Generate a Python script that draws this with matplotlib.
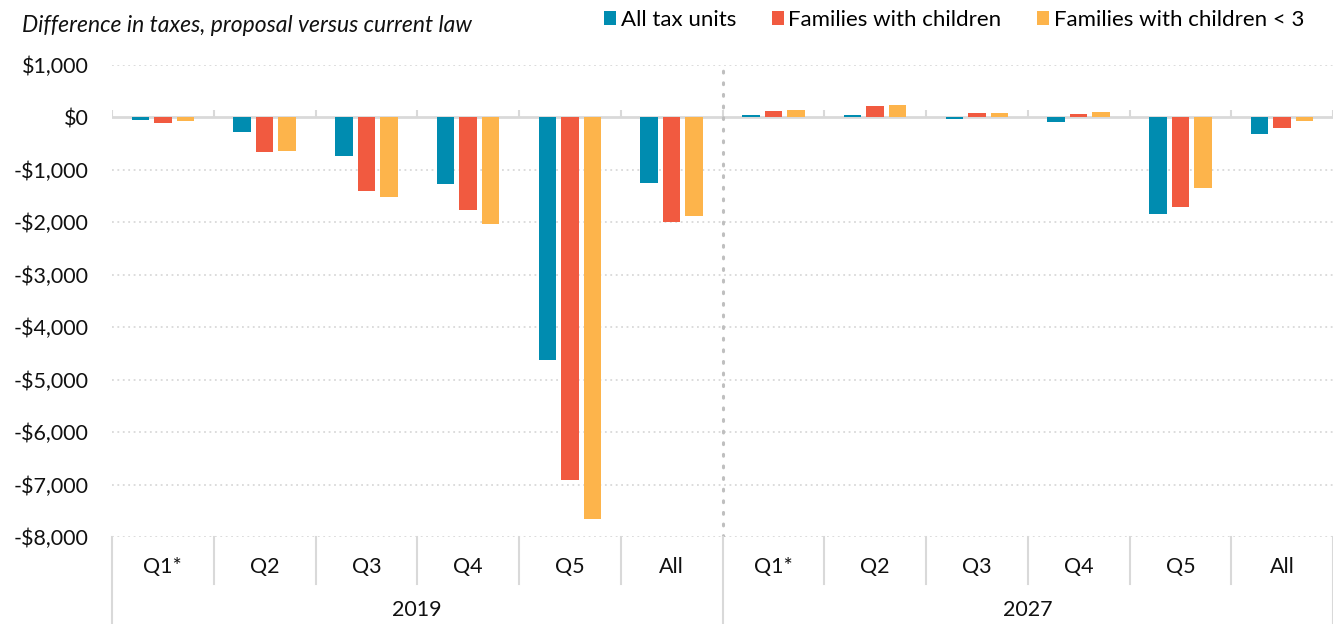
import numpy as np
import matplotlib
matplotlib.use('Agg')
import matplotlib.pyplot as plt
import matplotlib.transforms as mtransforms

plt.rcParams['font.family'] = ['Lato', 'DejaVu Sans']

# Данные
years = ['2019', '2027']
quintiles = ['Q1*', 'Q2', 'Q3', 'Q4', 'Q5', 'All']
series_names = ['All tax units', 'Families with children', 'Families with children < 3']
all_tax_units = [-51, -295, -737, -1276, -4632, -1258,
                 45, 45, -35, -96, -1845, -333]
families_children = [-109, -673, -1410, -1776, -6910, -2000,
                     115, 205, 77, 58, -1711, -212]
families_children_u3 = [-70, -654, -1532, -2032, -7648, -1878,
                        141, 224, 70, 96, -1356, -70]
yticks = list(range(-8000, 1001, 1000))

colors = ['#008CB0', '#F15A40', '#FDB44B']
grid_col = '#d9d9d9'

fig = plt.figure(figsize=(13.33, 6.24), dpi=100)
ax = fig.add_axes([112 / 1333, 1 - 537 / 624, 1 - 112 / 1333, (537 - 64.5) / 624])

n = len(years) * len(quintiles)
x = np.arange(n)
width = 0.172
offset = 0.22
series = [all_tax_units, families_children, families_children_u3]
handles = []
for k, (vals, col, name) in enumerate(zip(series, colors, series_names)):
    h = ax.bar(x + (k - 1) * offset, vals, width, color=col, label=name, zorder=3)
    handles.append(h)

ax.set_xlim(-0.5, n - 0.5)
ax.set_ylim(-8000, 1000)

# Сетка
for yv in yticks:
    if yv != 0:
        ax.axhline(yv, color=grid_col, lw=1.3, ls=(0, (1, 2)), zorder=1)
ax.axhline(0, color=grid_col, lw=2, zorder=2)
ax.vlines(np.arange(-0.5, n, 1), 0, 135, color=grid_col, lw=1.5, zorder=2)

# Разделитель групп
ax.axvline(5.5, color='#bfbfbf', lw=2.2, ls=(0, (0.6, 3.2)), dash_capstyle='round', zorder=2)

for s in ax.spines.values():
    s.set_visible(False)
ax.set_xticks([])
ax.set_yticks(yticks)
ax.set_yticklabels([('-$' if v < 0 else '$') + f'{abs(v):,}' for v in yticks])
ax.tick_params(axis='y', length=0, pad=17, labelsize=15.5, labelcolor='#111111')

# Подписи категорий
trans = mtransforms.blended_transform_factory(ax.transData, ax.transAxes)
for i in range(n):
    ax.text(i, -0.064, quintiles[i % len(quintiles)], transform=trans,
            ha='center', va='center', fontsize=15.5, color='#111111')
for g, yr in enumerate(years):
    ax.text(g * len(quintiles) + 2.5, -0.155, yr, transform=trans,
            ha='center', va='center', fontsize=15.5, color='#111111')
for b in np.arange(-0.5, n, 1):
    bottom = -0.185 if b in (-0.5, 5.5, 11.5) else -0.1
    ax.plot([b, b], [0, bottom], transform=trans, color=grid_col, lw=1.5, clip_on=False)

fig.text(22 / 1333, 1 - 26 / 624, 'Difference in taxes, proposal versus current law',
         fontsize=16.5, style='italic', ha='left', va='center', color='#111111')

fig.legend(handles=handles, loc='center right', bbox_to_anchor=(1304 / 1333, 1 - 20 / 624),
           ncol=3, frameon=False, fontsize=16, handlelength=0.55, handleheight=0.55,
           handletextpad=0.2, columnspacing=1.6, borderaxespad=0, borderpad=0)

fig.savefig('out.png', dpi=100)
